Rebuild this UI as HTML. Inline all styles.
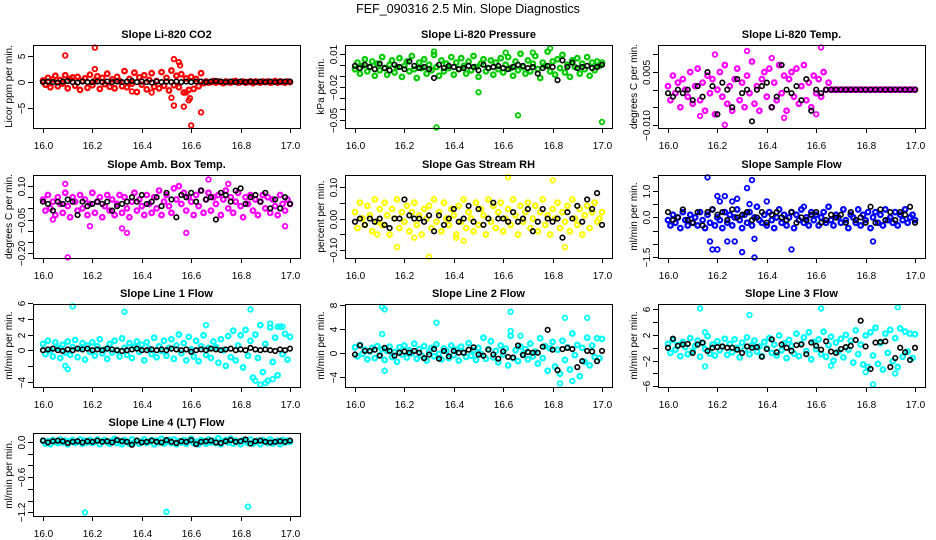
<!DOCTYPE html>
<html><head><meta charset="utf-8"><style>
body{margin:0;background:#fff}
svg{display:block;font-family:"Liberation Sans",sans-serif}
</style></head><body>
<svg id="fig" width="936" height="540" viewBox="0 0 936 540">
<rect width="936" height="540" fill="#fff"/>
<text x="468" y="13" text-anchor="middle" font-size="12.5">FEF_090316  2.5 Min. Slope Diagnostics</text>
</svg>
<script>
const colorTimes=[16.00,16.01,16.02,16.03,16.04,16.05,16.06,16.07,16.08,16.09,16.10,16.11,16.12,16.13,16.14,16.15,16.16,16.17,16.18,16.19,16.20,16.21,16.22,16.23,16.24,16.25,16.26,16.27,16.28,16.29,16.30,16.31,16.32,16.33,16.34,16.35,16.36,16.37,16.38,16.39,16.40,16.41,16.42,16.43,16.44,16.45,16.46,16.47,16.48,16.49,16.50,16.51,16.52,16.53,16.54,16.55,16.56,16.57,16.58,16.59,16.60,16.61,16.62,16.63,16.64,16.65,16.66,16.67,16.68,16.69,16.70,16.71,16.72,16.73,16.74,16.75,16.76,16.77,16.78,16.79,16.80,16.81,16.82,16.83,16.84,16.85,16.86,16.87,16.88,16.89,16.90,16.91,16.92,16.93,16.94,16.95,16.96,16.97,16.98,16.99,17.00];
const blackTimes=[16.00,16.02,16.04,16.06,16.08,16.10,16.12,16.14,16.16,16.18,16.20,16.22,16.24,16.26,16.28,16.30,16.32,16.34,16.36,16.38,16.40,16.42,16.44,16.46,16.48,16.50,16.52,16.54,16.56,16.58,16.60,16.62,16.64,16.66,16.68,16.70,16.72,16.74,16.76,16.78,16.80,16.82,16.84,16.86,16.88,16.90,16.92,16.94,16.96,16.98,17.00];
const xTickLabels=["16.0","16.2","16.4","16.6","16.8","17.0"];

const co2Color=[0.3,-0.5,0.8,-1.0,0.5,1.2,-0.8,0.4,-0.3,1.3,-1.2,0.6,0.9,-0.7,1.0,-1.5,0.2,0.7,-1.1,1.4,-0.6,0.3,1.1,-1.3,0.8,-0.4,1.6,-0.9,0.5,-1.2,1.0,0.2,-0.8,2.1,-1.0,0.6,-0.3,1.8,-1.9,0.9,-0.5,1.3,-1.4,0.4,1.7,-0.9,0.2,-1.2,1.9,-0.7,0.8,-1.6,2.2,-0.6,1.2,-1.0,1.5,-2.0,0.7,-1.5,1.0,-1.3,0.6,-0.8,1.7,-0.2,0.1,-0.1,0.0,0.2,-0.1,0.1,0.0,-0.2,0.1,0.0,-0.1,0.1,0.2,-0.1,0.0,0.1,-0.1,0.0,0.1,-0.2,0.1,0.0,-0.1,0.1,0.0,0.1,-0.1,0.0,0.2,-0.1,0.1,0.0,-0.1,0.1,0.0];
const co2Outliers=[[16.09,5.1],[16.21,6.6],[16.53,4.4],[16.55,3.8],[16.555,3.2],[16.52,-3.0],[16.53,-4.5],[16.57,-4.7],[16.59,-3.5],[16.595,-3.1],[16.60,-8.3],[16.64,-5.8],[16.36,-1.8],[16.21,2.5],[16.58,-2.0],[16.44,-2.0]];
const co2Black=[0,0.1,0,-0.1,0.1,0.2,0,-0.1,0.1,0,0,0.1,0,0.1,0,0.1,0,0.1,0.2,0,0.1,0,-0.1,0.1,0,0.1,0,0.1,0,0.1,0,0.1,0.1,0,0.1,0.2,0.1,0,0.1,0,0.1,0,0.1,0,0.1,0,0.1,0,0.1,0.1,0.1];

const presColor=[-.004,.002,-.008,-.001,.005,-.006,-.002,.003,-.010,.001,-.005,.007,-.003,-.009,.000,.004,-.007,-.002,.006,-.011,-.001,.003,-.006,.008,-.004,-.012,.002,-.003,.005,-.008,.000,-.005,.009,-.002,-.010,.004,-.006,.001,-.003,.007,-.009,.002,-.004,.006,-.001,-.008,.003,-.005,.008,-.002,-.011,.001,.005,-.006,-.003,.004,-.009,.002,-.004,.006,-.007,.000,.007,-.003,-.010,.003,-.005,.010,-.002,-.008,.004,-.006,.001,.008,-.004,-.012,.002,-.001,.012,-.006,.003,-.009,.005,-.003,.009,-.007,.000,-.011,.004,-.002,.006,-.008,.001,-.004,.007,-.010,.002,-.005,.003,-.001,.002];
const presOutliers=[[16.33,-.057],[16.50,-.025],[16.66,-.046],[17.00,-.052],[16.32,.012],[16.79,.015],[16.72,.011],[16.61,.011]];
const presBlack=[-.001,-.003,.000,-.002,-.004,.001,-.003,-.005,.000,-.002,-.004,.003,-.001,-.003,-.002,-.004,-.012,.000,-.003,-.001,-.002,-.004,-.003,-.001,-.002,-.005,.000,-.003,-.002,-.001,-.003,-.004,-.002,.000,-.001,-.003,-.002,-.008,-.003,-.001,-.002,-.014,.004,-.002,.002,-.003,-.002,-.001,-.003,-.002,.000];

const tempColor=[.001,-.003,.004,-.001,.002,-.005,.003,.000,-.002,.005,-.004,.001,.006,-.003,.002,-.006,.004,-.001,.003,-.007,.000,.005,-.002,.007,-.004,.001,-.006,.003,.006,-.003,.002,-.005,.004,-.001,.008,-.004,.001,-.006,.003,.005,-.002,.006,-.005,.002,-.003,.007,-.001,.004,-.006,.003,.005,-.002,.006,-.004,.001,.007,-.003,.002,-.005,.004,-.001,.003,-.002,.005,.000,.002,0,0,0,0,0,0,0,0,0,0,0,0,0,0,0,0,0,0,0,0,0,0,0,0,0,0,0,0,0,0,0,0,0,0,0];
const tempOutliers=[[16.23,-.010],[16.32,.011],[16.62,.012],[16.42,.009],[16.47,-.008],[16.19,.010],[16.13,-.0075],[16.60,-.007]];
const tempBlack=[-.001,-.002,.000,-.001,.000,-.003,.001,-.002,.005,.001,-.007,.002,.000,-.005,.003,-.001,.000,-.009,.000,.001,.002,-.005,-.002,.007,.000,-.001,.001,-.003,.003,-.006,.000,-.001,.000,0,0,0,0,0,0,0,0,0,0,0,0,0,0,0,0,0,0];

const ambColor=[.04,-.01,.06,.00,.03,-.03,.05,.02,-.02,.07,.01,-.04,.05,.03,-.01,.06,.00,.04,-.03,.02,.07,-.02,.03,.05,-.04,.01,.06,-.01,.04,-.03,.02,.06,-.02,.05,.00,-.04,.03,.07,-.01,.04,.01,-.03,.06,.02,-.02,.05,.00,.08,-.03,.03,.06,.01,-.02,.09,.04,.10,.02,.07,-.01,.05,.03,-.03,.06,.01,.08,-.02,.04,.07,-.01,.05,.02,.06,-.03,.04,.08,.00,.05,-.02,.03,.07,.01,-.04,.05,.02,.06,-.01,.04,-.03,.03,.06,.00,.05,-.02,.04,.01,-.03,.06,.02,-.01,.04,.02];
const ambOutliers=[[16.10,-.22],[16.09,.11],[16.58,-.11],[16.32,-.09],[16.98,-.08],[16.67,.13],[16.75,.11],[16.04,-.05],[16.19,-.08],[16.34,-.11]];
const ambBlack=[.03,.02,-.01,.03,.02,.04,.03,-.03,.03,.01,.02,.03,.02,.03,-.01,.01,.02,.03,.05,.03,.06,.02,.03,.05,.01,.07,.04,-.04,.06,.05,.07,.03,.08,.04,.05,-.05,.07,.06,.03,.08,.09,.02,.05,.06,.03,.07,.00,.04,.00,.05,.02];

const rhColor=[.02,-.03,.05,.00,-.02,.04,.01,-.04,.06,-.01,.03,-.02,.05,.01,-.05,.03,.00,.06,-.03,.02,-.01,.04,-.04,.02,.05,-.02,.01,-.05,.03,.00,.04,-.03,.06,-.01,.02,-.04,.05,.00,-.02,.03,.01,-.05,.04,-.01,.06,-.03,.02,.00,-.04,.05,-.02,.03,.01,-.05,.06,-.01,.04,-.03,.02,.05,-.04,.00,.03,-.02,.06,.01,-.05,.04,-.01,.02,.05,-.03,.00,.04,-.04,.02,.06,-.02,.01,-.05,.03,.00,.05,-.03,.02,-.01,.04,-.04,.06,.00,-.02,.03,-.05,.01,.04,-.03,.02,.05,-.01,.00,.02];
const rhOutliers=[[16.30,-.12],[16.62,.13],[16.80,.12],[16.17,-.09],[16.24,-.06],[16.85,-.09],[16.41,-.06],[16.09,-.05],[16.44,-.07]];
const rhBlack=[-.01,.00,-.02,.00,-.01,.00,-.02,-.03,.00,.00,.06,.01,.00,.00,-.01,.01,-.04,.01,-.02,.00,.03,-.01,.00,.04,-.01,.03,-.02,.00,.05,.00,.00,-.01,.02,-.01,.00,.03,-.04,-.01,.03,.00,-.01,.00,-.06,.02,.00,.04,-.01,.06,.03,.08,-.02];

const flowColor=[-.1,-.3,.1,-.2,.0,-.4,.2,-.1,-.3,.1,-.2,.0,-.3,.2,-.1,-.4,.1,-.2,.3,-.3,.0,-.1,-.4,.2,-.2,.1,-.3,.0,.3,-.1,-.4,.1,-.2,.2,-.3,.0,.4,-.1,-.2,.1,-.3,.2,-.1,-.4,.0,.3,-.2,.1,-.3,.0,.2,-.4,.1,-.1,.3,-.2,.0,-.3,.2,-.1,.1,-.3,.0,.2,-.2,.4,-.1,-.3,.1,.0,-.2,.3,-.1,-.4,.1,.0,-.2,.3,-.3,.1,-.1,.2,-.4,.0,.2,-.2,.1,-.3,.3,-.1,.0,-.2,.2,-.3,.1,-.1,.3,-.2,.0,.1,-.1];
const flowOutliers=[[16.16,1.5],[16.34,1.4],[16.32,1.1],[16.20,.8],[16.23,.8],[16.28,.7],[16.33,.5],[16.17,-.9],[16.18,-1.2],[16.20,-1.2],[16.24,-.9],[16.27,-.9],[16.30,-1.3],[16.35,-1.5],[16.35,-.8],[16.50,-1.2],[16.83,-.9],[16.40,.6],[16.55,.4],[16.21,.6],[16.26,.6]];
const flowBlack=[.2,-.1,.0,.3,-.1,-.2,.2,-.3,.2,.3,.1,.2,-.1,.3,.0,.1,.2,-.1,.0,.2,-.2,.1,.2,.0,-.1,.2,-.2,.0,-.1,.1,.2,-.2,-.1,.1,.0,.1,-.2,.2,-.1,.0,-.2,.4,-.2,.3,-.1,.2,-.1,.2,.1,.4,-.2];

const line1Color=[.8,-.5,1.2,.0,-.8,1.0,.3,-1.0,.7,-.3,1.1,-.6,.4,1.3,-.9,.2,.9,-1.2,.6,-.2,1.0,-.7,.5,1.4,-.4,.1,-1.1,.8,-.3,1.2,.0,-.8,1.5,.3,-.6,.9,-1.0,.4,1.1,-.2,.7,-1.3,1.0,.2,-.5,1.6,-.9,.5,-.1,1.2,-.7,.3,1.4,-1.1,.6,2.0,-.4,.9,-1.3,1.7,.1,-.8,1.2,-1.4,.5,1.9,-.6,.3,-1.0,1.1,.4,-1.6,1.4,.0,-2.0,1.8,-.9,2.5,-1.3,.6,1.9,-2.2,2.6,-.7,1.2,-3.5,2.0,-1.0,3.2,-2.8,.8,-3.9,2.9,-1.5,1.6,-3.2,3.0,-.5,2.1,-1.2,1.7];
const line1Outliers=[[16.12,5.6],[16.33,4.9],[16.84,5.2],[16.88,-4.4],[16.90,-4.2],[16.86,-3.9],[16.93,-3.7],[16.66,3.2],[16.10,-2.4],[16.92,3.4],[16.95,3.0],[16.97,3.0],[16.09,-2.0]];
const line1Black=[0,.1,.2,0,-.1,.1,0,.2,.1,.2,0,.1,0,.2,.1,0,-.1,0,.1,.2,0,0,.1,0,.1,0,.2,.1,0,.1,-.2,0,.1,0,.2,.1,0,.1,.2,0,.1,0,.3,.1,0,.1,0,-.1,.1,0,.2];

const line2Color=[.9,-.6,1.3,-.2,.5,-1.1,.2,.8,-.9,1.1,-.4,.6,-1.2,.3,1.0,-.7,.1,-1.5,.9,-.3,1.2,-.8,.4,-.1,1.5,-1.0,.6,-.5,1.1,-1.3,.2,.8,-.6,1.4,-.2,-1.1,.7,.3,-.9,1.2,-.4,.5,-1.3,1.0,.0,-.7,1.6,-.5,.4,-1.2,.8,-.2,2.5,-1.0,.6,1.9,-.8,.3,-1.6,1.2,-.3,.7,-2.1,2.8,-.9,.4,-1.4,1.0,-.2,.6,-1.1,1.5,-.6,.2,-1.8,2.4,-.9,1.1,-3.0,.7,1.8,-2.3,.5,-3.5,2.0,-1.2,.9,-2.8,3.2,-.4,1.3,-3.9,.8,-1.5,2.5,-2.1,1.2,-.7,2.4,-.9,2.3];
const line2Outliers=[[16.11,7.6],[16.12,7.2],[16.33,5.0],[16.63,6.8],[16.63,3.6],[16.85,5.8],[16.94,5.8],[16.88,-4.7],[16.83,-5.1],[16.12,-3.0],[16.11,3.1],[16.67,2.8]];
const line2Black=[-.3,1.2,.3,.3,.5,-.5,.8,.3,-.5,.0,.2,.0,.3,.0,-.9,-.3,.6,-1.0,.3,-.6,.3,.0,.0,.5,.9,-.3,-.5,.5,-.3,-1.0,.2,-.7,-.8,1.2,-.4,.1,.0,.0,1.0,3.8,.5,-2.9,.6,.8,.6,-2.4,-1.4,.3,.2,-1.4,.3];

const line3Color=[.6,-.8,1.2,-.3,.4,-1.3,.9,.1,-1.0,1.5,-.5,.3,1.1,-1.4,.7,-.2,1.8,-.9,.5,-1.2,1.0,-.4,.2,1.4,-1.1,.6,-.7,1.3,.0,-1.5,.8,-.3,1.6,-1.0,.4,1.1,-.6,.2,-1.3,.9,-.1,1.5,-.8,.5,-1.2,1.9,-.4,.7,-1.6,1.2,.3,-.9,2.2,-1.3,.6,1.6,-.5,2.4,-1.8,.9,-.2,1.3,-1.0,2.5,-1.4,.4,1.7,-2.0,.8,-.6,1.4,-1.5,2.0,-.3,1.1,-2.3,2.7,-1.0,.5,-2.6,1.9,-3.0,2.4,-1.2,3.1,-2.5,.7,-3.4,2.2,-.8,2.8,-2.1,1.5,-3.0,3.0,-1.4,2.5,-.6,2.2,-1.6,2.1];
const line3Outliers=[[16.13,6.1],[16.33,5.1],[16.62,6.1],[16.93,6.3],[16.83,-5.7],[16.15,-2.9],[16.66,-2.8],[16.92,-4.0],[16.80,-3.8],[16.15,2.4]];
const line3Black=[.0,1.4,.3,.5,.6,-.8,.5,.8,-.5,.0,.1,.2,.0,.0,-.3,-.8,.2,.0,.1,-1.4,-.2,1.3,-.7,.5,.0,-.5,.4,.5,-1.0,.8,.3,-.3,1.0,-.6,-.8,-.2,.1,.3,1.2,4.2,.2,-3.3,.8,.9,1.0,-3.0,-1.6,.0,-.7,-1.9,.0];

const line4Color=[.02,-.03,.01,-.04,.03,.00,-.02,.04,-.01,.02,-.04,.01,.03,-.02,.00,.04,-.03,.02,-.01,.03,-.02,.00,.04,-.04,.01,.03,-.01,-.03,.02,.05,-.02,.01,-.04,.03,.00,-.03,.04,-.01,.02,-.03,.01,.04,-.02,.00,.03,-.04,.02,-.01,.05,-.03,.00,.03,-.02,.04,-.04,.01,-.01,.03,-.03,.02,.05,-.02,.00,-.04,.03,.01,-.03,.04,-.01,.02,-.02,.06,-.04,.01,.03,-.01,.05,-.03,.02,.00,-.04,.03,.01,-.02,.04,-.03,.00,.02,-.04,.03,.01,-.02,.04,-.03,.00,.02,-.04,.03,-.01,.02,.00];
const line4Outliers=[[16.17,-1.2],[16.50,-1.19],[16.83,-1.1]];
const line4Black=[.02,-.01,.01,.02,.01,-.02,.00,.01,-.01,.01,.00,.02,.00,.01,-.01,.03,.01,.00,-.05,.02,-.01,.00,.02,.00,-.01,.03,.00,-.02,.01,.00,.03,-.04,.00,.01,.02,-.01,-.02,.01,.03,.00,.01,.04,-.03,.01,.02,.00,-.01,.00,.01,.00,.02];

const co2Ticks=[[5,"5"],[0,"0"],[-5,"\u22125"]];
const presTicks=[[.01,"0.01"],[0,""],[-.01,""],[-.02,"\u22120.02"],[-.03,""],[-.04,""],[-.05,"\u22120.05"]];
const tempTicks=[[.01,""],[.005,"0.005"],[0,""],[-.005,""],[-.01,"\u22120.010"]];
const ambTicks=[[.1,"0.10"],[.05,""],[0,""],[-.05,"\u22120.05"],[-.1,""],[-.15,""],[-.2,"\u22120.20"]];
const rhTicks=[[.1,"0.10"],[.05,""],[0,"0.00"],[-.05,""],[-.1,"\u22120.10"]];
const flowTicks=[[1.5,""],[1,"1.0"],[.5,""],[0,"0.0"],[-.5,""],[-1,""],[-1.5,"\u22121.5"]];
const line1Ticks=[[6,"6"],[4,"4"],[2,"2"],[0,"0"],[-2,""],[-4,"\u22124"]];
const line2Ticks=[[8,"8"],[4,"4"],[0,"0"],[-4,"\u22124"]];
const line3Ticks=[[6,"6"],[4,""],[2,"2"],[0,""],[-2,"\u22122"],[-4,""],[-6,"\u22126"]];
const line4Ticks=[[0,"0.0"],[-.2,""],[-.4,""],[-.6,"\u22120.6"],[-.8,""],[-1,""],[-1.2,"\u22121.2"]];

const NS="http://www.w3.org/2000/svg";
const svg=document.getElementById('fig');
const colLeft=[33,345,658], rowTop=[45,175,304,433], BW=267, BH=83;
function mk(tag,attrs,parent){const e=document.createElementNS(NS,tag);for(const k in attrs)e.setAttribute(k,attrs[k]);(parent||svg).appendChild(e);return e;}

const panels=[
 {id:'co2',title:'Slope Li-820 CO2',ylab:'Licor ppm per min.',col:'#ff0000',ylim:[-8.8,7.1],ticks:co2Ticks,c:co2Color,o:co2Outliers,b:co2Black},
 {id:'pressure',title:'Slope Li-820 Pressure',ylab:'kPa per min.',col:'#00cc00',ylim:[-.0575,.018],ticks:presTicks,c:presColor,o:presOutliers,b:presBlack},
 {id:'temp',title:'Slope Li-820 Temp.',ylab:'degrees C per min.',col:'#ff00ff',ylim:[-.0109,.0127],ticks:tempTicks,c:tempColor,o:tempOutliers,b:tempBlack},
 {id:'ambbox',title:'Slope Amb. Box Temp.',ylab:'degrees C per min.',col:'#ff00ff',ylim:[-.223,.15],ticks:ambTicks,c:ambColor,o:ambOutliers,b:ambBlack},
 {id:'rh',title:'Slope Gas Stream RH',ylab:'percent per min.',col:'#ffff00',ylim:[-.124,.137],ticks:rhTicks,c:rhColor,o:rhOutliers,b:rhBlack},
 {id:'sampleflow',title:'Slope Sample Flow',ylab:'ml/min per min.',col:'#0000ff',ylim:[-1.52,1.59],ticks:flowTicks,c:flowColor,o:flowOutliers,b:flowBlack},
 {id:'line1',title:'Slope Line 1 Flow',ylab:'ml/min per min.',col:'#00ffff',ylim:[-4.7,5.9],ticks:line1Ticks,c:line1Color,o:line1Outliers,b:line1Black},
 {id:'line2',title:'Slope Line 2 Flow',ylab:'ml/min per min.',col:'#00ffff',ylim:[-5.7,8.1],ticks:line2Ticks,c:line2Color,o:line2Outliers,b:line2Black},
 {id:'line3',title:'Slope Line 3 Flow',ylab:'ml/min per min.',col:'#00ffff',ylim:[-6.1,6.8],ticks:line3Ticks,c:line3Color,o:line3Outliers,b:line3Black},
 {id:'line4',title:'Slope Line 4 (LT) Flow',ylab:'ml/min per min.',col:'#00ffff',ylim:[-1.26,.15],ticks:line4Ticks,c:line4Color,o:line4Outliers,b:line4Black}
];

panels.forEach((p,i)=>{
  const L=colLeft[i%3], T=rowTop[Math.floor(i/3)], B=T+BH;
  const g=mk('g',{});
  
  
  const xs=v=>L+10+(v-16)*247;
  const ys=v=>B-(v-p.ylim[0])/(p.ylim[1]-p.ylim[0])*BH;
  const t=mk('text',{x:L+BW/2,y:T-7,'text-anchor':'middle','font-size':'11','font-weight':'bold'},g);
  t.textContent=p.title;
  
  
  const yl=mk('text',{x:0,y:0,'text-anchor':'middle','font-size':'10',transform:`translate(${L-21},${T+BH/2}) rotate(-90)`},g);
  yl.textContent=p.ylab;
  
  
  const pts=mk('g',{fill:'none'},g);
  
  
  p.c.forEach((v,k)=>{
    const c=mk('circle',{cx:xs(colorTimes[k]),cy:ys(v),r:2.3,stroke:p.col,'stroke-width':2.2},pts);
    
    
  });
  p.o.forEach(d=>{
    const c=mk('circle',{cx:xs(d[0]),cy:ys(d[1]),r:2.3,stroke:p.col,'stroke-width':1.8},pts);
    
    
  });
  p.b.forEach((v,k)=>{
    const c=mk('circle',{cx:xs(blackTimes[k]),cy:ys(v),r:2.3,stroke:'#000','stroke-width':1.6},pts);
    
    
  });
  const bx=mk('rect',{x:L+.5,y:T+.5,width:BW,height:BH,fill:'none',stroke:'#000','stroke-width':1},g);
  
  
  const ya=mk('g',{},g);
  
  
  p.ticks.forEach(tk=>{
    const y=Math.round(ys(tk[0]))+.5;
    mk('line',{x1:L-5,x2:L,y1:y,y2:y,stroke:'#000'},ya);
    if(tk[1]){
      const tl=mk('text',{x:0,y:0,'text-anchor':'middle','font-size':'10',transform:`translate(${L-8},${y}) rotate(-90)`},ya);
      tl.textContent=tk[1];
      
      
    }
  });
  const xa=mk('g',{},g);
  
  
  xTickLabels.forEach(s=>{
    const x=Math.round(xs(parseFloat(s)))+.5;
    mk('line',{x1:x,x2:x,y1:B,y2:B+5,stroke:'#000'},xa);
    const tl=mk('text',{x:x,y:B+21,'text-anchor':'middle','font-size':'10'},xa);
    tl.textContent=s;
    
    
  });
});
</script>
</body></html>
